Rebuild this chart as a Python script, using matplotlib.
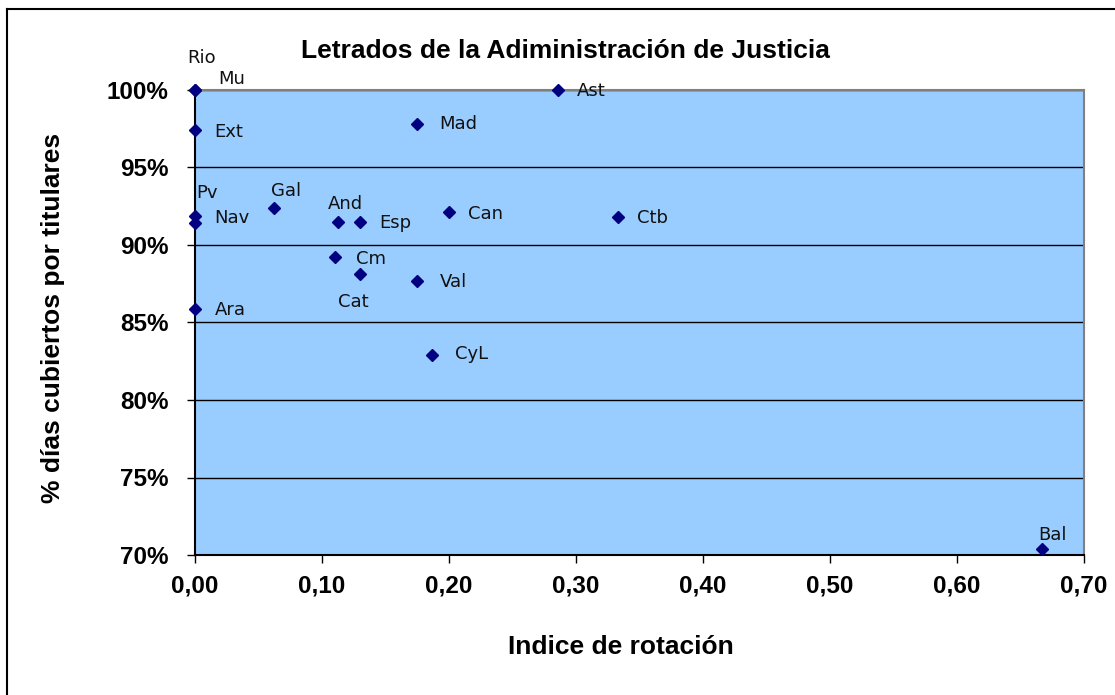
import matplotlib.pyplot as plt
from matplotlib.lines import Line2D
from matplotlib.ticker import FuncFormatter, MultipleLocator

# datos: comunidades, índice de rotación y % de días cubiertos por titulares
comunidades = ['Rio', 'Mu', 'Ext', 'Mad', 'Ast', 'Pv', 'Nav', 'Gal', 'And', 'Esp',
               'Can', 'Ctb', 'Cm', 'Cat', 'Val', 'Ara', 'CyL', 'Bal']
indice_rotacion = [0.0, 0.0, 0.0, 0.175, 0.2857, 0.0, 0.0, 0.062, 0.1125, 0.13,
                   0.20, 0.333, 0.110, 0.130, 0.175, 0.0, 0.187, 0.667]
dias_cubiertos = [1.000, 1.000, 0.974, 0.978, 1.000, 0.919, 0.914, 0.924, 0.915, 0.915,
                  0.921, 0.918, 0.892, 0.881, 0.877, 0.859, 0.829, 0.704]

# desplazamiento de cada etiqueta (puntos) y alineación
offsets = {
    'Rio': (5, 23, 'center'), 'Mu': (17, 8, 'left'), 'Ext': (14, -1, 'left'),
    'Mad': (16, 0, 'left'), 'Ast': (14, -1, 'left'), 'Pv': (1, 16, 'left'),
    'Nav': (14, 4, 'left'), 'Gal': (-2, 12, 'left'), 'And': (-7, 13, 'left'),
    'Esp': (14, -1, 'left'), 'Can': (14, -1, 'left'), 'Ctb': (14, -1, 'left'),
    'Cm': (15, -1, 'left'), 'Cat': (-16, -20, 'left'), 'Val': (16, -1, 'left'),
    'Ara': (14, -1, 'left'), 'CyL': (16, 1, 'left'), 'Bal': (-3, 10, 'left'),
}

fig = plt.figure(figsize=(11.15, 6.95), dpi=100)
ax = fig.add_axes([195 / 1115, 140 / 695, 889 / 1115, 465 / 695])
ax.set_facecolor('#99CCFF')

ax.plot(indice_rotacion, dias_cubiertos, linestyle='none', marker='D',
        markersize=6.3, color='#000080', clip_on=False, zorder=5)

for nombre, x, y in zip(comunidades, indice_rotacion, dias_cubiertos):
    dx, dy, ha = offsets[nombre]
    ax.annotate(nombre, (x, y), xytext=(dx, dy), textcoords='offset points',
                ha=ha, va='center', fontsize=13, family='DejaVu Sans',
                color='#111111', annotation_clip=False)

ax.set_xlim(0, 0.70)
ax.set_ylim(0.70, 1.00)
ax.xaxis.set_major_locator(MultipleLocator(0.10))
ax.yaxis.set_major_locator(MultipleLocator(0.05))
ax.xaxis.set_major_formatter(FuncFormatter(lambda v, p: f'{v:.2f}'.replace('.', ',')))
ax.yaxis.set_major_formatter(FuncFormatter(lambda v, p: f'{v * 100:.0f}%'))

ax.yaxis.grid(True, color='black', linewidth=1)
ax.set_axisbelow(True)
ax.tick_params(direction='out', length=6, width=1, color='black')
for lab in ax.get_xticklabels() + ax.get_yticklabels():
    lab.set_family('Liberation Sans')
    lab.set_fontweight('bold')
    lab.set_fontsize(17.5)
ax.tick_params(axis='x', pad=8)
ax.tick_params(axis='y', pad=13)

ax.spines['left'].set_color('black')
ax.spines['bottom'].set_color('black')
ax.spines['top'].set_color('#808080')
ax.spines['right'].set_color('#808080')
for s in ax.spines.values():
    s.set_linewidth(1.5)

# títulos de ejes y del gráfico
fig.text(621 / 1115, 1 - 647 / 695, 'Indice de rotación', ha='center', va='center',
         fontsize=19, fontweight='bold', family='Liberation Sans')
fig.text(53 / 1115, 1 - 318 / 695, '% días cubiertos por titulares', ha='center',
         va='center', rotation=90, fontsize=19, fontweight='bold',
         family='Liberation Sans')
fig.text(565 / 1115, 1 - 51 / 695, 'Letrados de la Adiministración de Justicia',
         ha='center', va='center', fontsize=19, fontweight='bold',
         family='Liberation Sans')

# marco exterior (solo arriba e izquierda visibles)
fig.add_artist(Line2D([7 / 1115, 1], [1 - 9 / 695, 1 - 9 / 695],
                      transform=fig.transFigure, color='black', linewidth=1.5))
fig.add_artist(Line2D([7 / 1115, 7 / 1115], [0, 1 - 9 / 695],
                      transform=fig.transFigure, color='black', linewidth=1.5))

fig.savefig('out.png', dpi=100)
